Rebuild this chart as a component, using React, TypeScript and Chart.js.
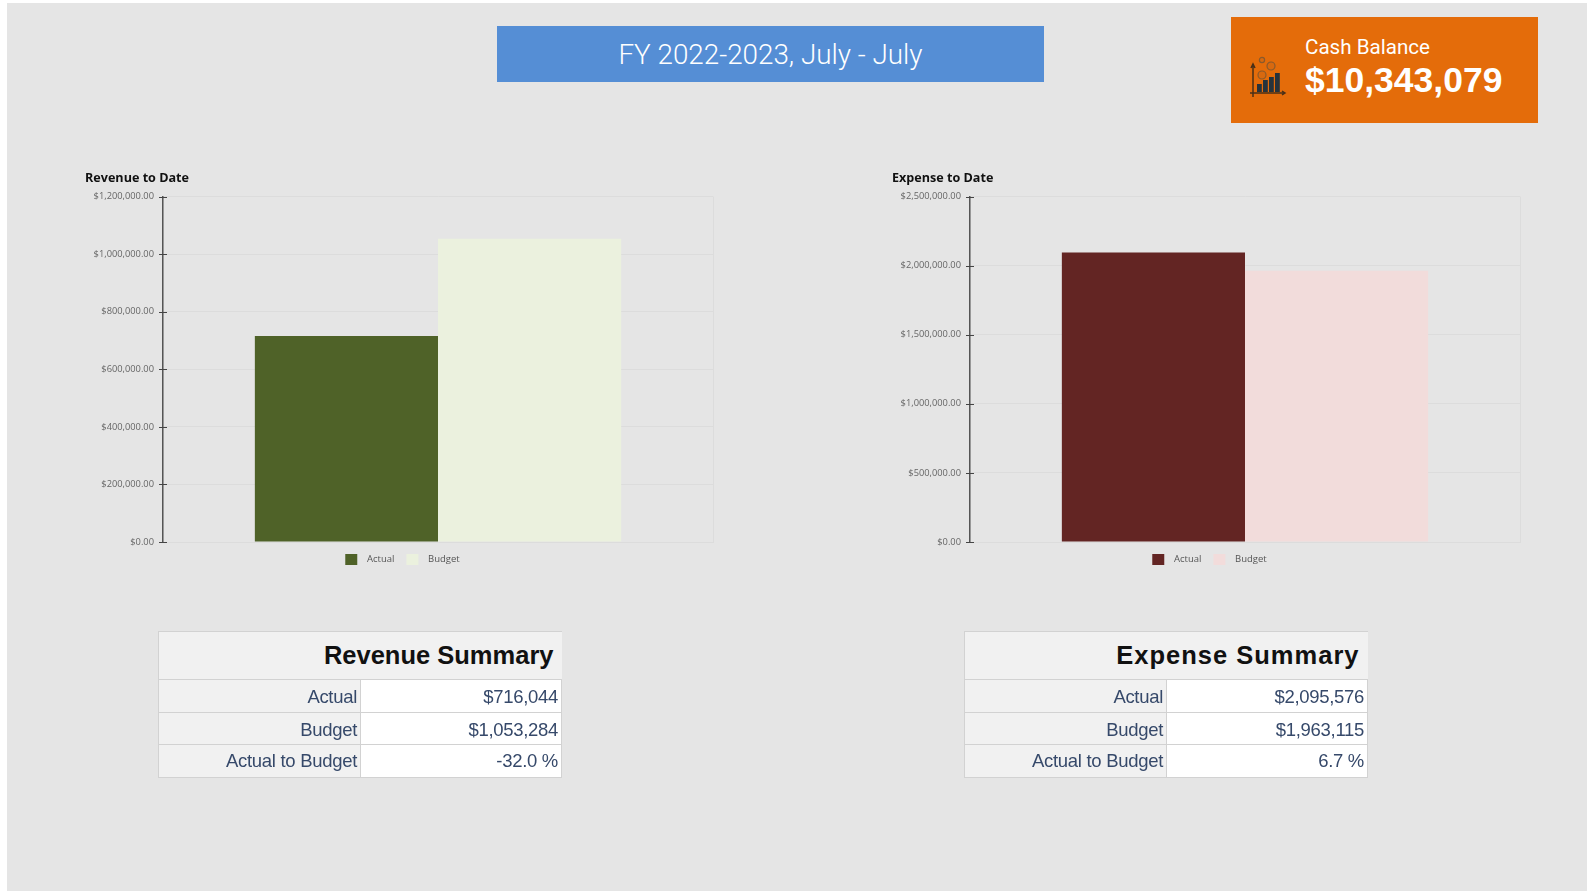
import React, { useEffect, useRef } from "react";
import { Chart, registerables } from "chart.js";

Chart.register(...registerables);

const seriesNames = ["Actual", "Budget"];
const revenueValues = [716044, 1053284];
const expenseValues = [2095576, 1963115];
const revenueColors = ["#4f6228", "#ebf1de"];
const expenseColors = ["#632523", "#f2dcdb"];
const revenueTitle = "Revenue to Date";
const expenseTitle = "Expense to Date";
const revenueMax = 1200000;
const revenueStep = 200000;
const expenseMax = 2500000;
const expenseStep = 500000;
const periodTitle = "FY 2022-2023, July - July";
const cashLabel = "Cash Balance";
const cashValue = "$10,343,079";
const revenueRows = [
  ["Actual", "$716,044"],
  ["Budget", "$1,053,284"],
  ["Actual to Budget", "-32.0 %"],
];
const expenseRows = [
  ["Actual", "$2,095,576"],
  ["Budget", "$1,963,115"],
  ["Actual to Budget", "6.7 %"],
];

const money = (v: number) =>
  "$" + v.toLocaleString("en-US", { minimumFractionDigits: 2, maximumFractionDigits: 2 });

const crossTicks = {
  id: "crossTicks",
  afterLayout(chart: any) {
    chart.legend.left += 7;
  },
  afterDraw(chart: any) {
    const s = chart.scales.y;
    const c = chart.ctx;
    c.save();
    c.strokeStyle = "#444";
    c.lineWidth = 1;
    s.ticks.forEach((_: any, i: number) => {
      const y = Math.round(s.getPixelForTick(i)) + 0.5;
      c.beginPath();
      c.moveTo(s.right - 4, y);
      c.lineTo(s.right + 4, y);
      c.stroke();
    });
    c.restore();
  },
};

function BarPanel(props: {
  left: number;
  title: string;
  values: number[];
  colors: string[];
  max: number;
  step: number;
}) {
  const ref = useRef<HTMLCanvasElement>(null);
  useEffect(() => {
    const chart = new Chart(ref.current!, {
      type: "bar",
      data: {
        labels: [""],
        datasets: seriesNames.map((name, i) => ({
          label: name,
          data: [props.values[i]],
          backgroundColor: props.colors[i],
          categoryPercentage: 0.666,
          barPercentage: 1,
        })),
      },
      options: {
        animation: false,
        responsive: false,
        layout: { padding: { right: 8, top: 0, bottom: 0 } },
        plugins: {
          tooltip: { enabled: false },
          title: {
            display: true,
            text: props.title,
            align: "start",
            color: "#111",
            font: { family: "Open Sans", size: 12.6, weight: "bold" },
            padding: { top: 3, bottom: 10.5 },
          },
          legend: {
            position: "bottom",
            labels: {
              boxWidth: 12,
              boxHeight: 11,
              padding: 12,
              color: "#555",
              font: { family: "Open Sans", size: 9.5 },
              generateLabels: (c: any) =>
                c.data.datasets.map((d: any, i: number) => ({
                  text: "  " + d.label,
                  fillStyle: d.backgroundColor,
                  strokeStyle: d.backgroundColor,
                  lineWidth: 0,
                  datasetIndex: i,
                  fontColor: "#555",
                })),
            },
          },
        },
        scales: {
          x: {
            ticks: { display: false },
            grid: { color: "#dcdcdc", drawTicks: false },
            border: { color: "#dcdcdc" },
          },
          y: {
            min: 0,
            max: props.max,
            afterFit: (s: any) => {
              s.width = 78;
            },
            ticks: {
              stepSize: props.step,
              padding: 1,
              color: "#666",
              font: { family: "Open Sans", size: 9.3 },
              callback: (v: any) => money(Number(v)),
            },
            grid: { color: "#dcdcdc", tickLength: 8, tickColor: "rgba(0,0,0,0)" },
            border: { color: "#555", width: 1.5 },
          },
        },
      },
      plugins: [crossTicks],
    } as any);
    return () => chart.destroy();
  }, []);
  return (
    <canvas
      ref={ref}
      width={636}
      height={407}
      style={{ position: "absolute", left: props.left, top: 168, filter: "blur(0.5px)" }}
    />
  );
}

function SummaryTable(props: { left: number; title: string; rows: string[][]; spacing: number }) {
  const rowH = [33, 32, 33];
  const rowPad = ["2px 3px 0", "2px 3px 0", "0 3px 0"];
  const cell: React.CSSProperties = {
    boxSizing: "border-box",
    border: "1px solid #d2d2d2",
    textAlign: "right",
    color: "#36496a",
    fontSize: 18.5,
    letterSpacing: -0.3,
    whiteSpace: "nowrap",
    overflow: "hidden",
  };
  return (
    <table
      style={{
        position: "absolute",
        left: props.left,
        top: 631,
        width: 403,
        height: 146,
        borderCollapse: "collapse",
        tableLayout: "fixed",
        fontFamily: "Liberation Sans",
        filter: "blur(0.3px)",
      }}
    >
      <colgroup>
        <col style={{ width: 202 }} />
        <col style={{ width: 201 }} />
      </colgroup>
      <tbody>
        <tr style={{ height: 48 }}>
          <td
            colSpan={2}
            style={{
              ...cell,
              background: "#f1f1f1",
              color: "#111",
              fontSize: 25.5,
              fontWeight: 700,
              letterSpacing: props.spacing,
              padding: "0 8px",
              borderRight: "none",
            }}
          >
            {props.title}
          </td>
        </tr>
        {props.rows.map((r, i) => (
          <tr key={r[0]} style={{ height: rowH[i] }}>
            <td style={{ ...cell, padding: rowPad[i], background: "#f1f1f1" }}>{r[0]}</td>
            <td style={{ ...cell, padding: rowPad[i], background: "#ffffff" }}>{r[1]}</td>
          </tr>
        ))}
      </tbody>
    </table>
  );
}

function CashIcon() {
  const bars = [
    [1, 8],
    [7, 12],
    [13, 15],
    [19, 19],
  ];
  return (
    <svg
      width={38}
      height={44}
      viewBox="0 0 38 44"
      style={{ position: "absolute", left: 1249, top: 55, filter: "blur(0.5px)" }}
    >
      <path d="M4 10V42M1 38H36M2 13L4 9L6 13M33 36L36 38L33 40" stroke="#4a3018" strokeWidth="1.5" fill="none" />
      {bars.map(([x, h], i) => (
        <rect key={i} x={x + 7} y={37 - h} width={4.8} height={h} fill="#26333c" />
      ))}
      {[
        [13, 5, 2.6],
        [22, 11, 4],
        [13, 20, 4],
      ].map(([cx, cy, r], i) => (
        <circle key={i} cx={cx} cy={cy} r={r} fill="#d8690f" stroke="#8a5a2c" strokeWidth="1.2" />
      ))}
    </svg>
  );
}

export default function App() {
  return (
    <div style={{ position: "fixed", inset: 0, background: "#fff", overflow: "hidden" }}>
      <div style={{ position: "absolute", left: 7, top: 3, right: 0, bottom: 0, background: "#e5e5e5" }} />
      <div
        style={{
          position: "absolute",
          left: 497,
          top: 26,
          width: 547,
          height: 56,
          background: "#558ed5",
          color: "#fff",
          fontFamily: "Roboto",
          fontWeight: 300,
          fontSize: 27.8,
          lineHeight: "58px",
          textAlign: "center",
        }}
      >
        {periodTitle}
      </div>
      <div style={{ position: "absolute", left: 1231, top: 17, width: 307, height: 105.5, background: "#e46c0a" }} />
      <CashIcon />
      <div
        style={{
          position: "absolute",
          left: 1305,
          top: 34,
          color: "#fff",
          fontFamily: "Roboto",
          fontSize: 20.6,
          lineHeight: "26px",
        }}
      >
        {cashLabel}
      </div>
      <div
        style={{
          position: "absolute",
          left: 1305,
          top: 58,
          color: "#fff",
          fontFamily: "Liberation Sans",
          fontWeight: 700,
          fontSize: 35.5,
          lineHeight: "44px",
        }}
      >
        {cashValue}
      </div>
      <BarPanel left={85} title={revenueTitle} values={revenueValues} colors={revenueColors} max={revenueMax} step={revenueStep} />
      <BarPanel left={892} title={expenseTitle} values={expenseValues} colors={expenseColors} max={expenseMax} step={expenseStep} />
      <SummaryTable left={158} title="Revenue Summary" rows={revenueRows} spacing={0} />
      <SummaryTable left={964} title="Expense Summary" rows={expenseRows} spacing={1} />
    </div>
  );
}
